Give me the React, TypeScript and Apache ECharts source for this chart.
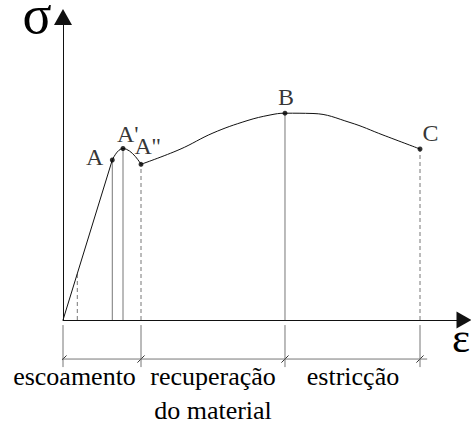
import React, { useEffect, useRef } from "react";
import * as echarts from "echarts";

// strain (ε) 0..100, stress (σ) 0..100 in arbitrary units
const ptA = [12.48, 53.69];
const ptA1 = [15.19, 57.55];
const ptA2 = [19.75, 52.25];
const ptB = [56.2, 69.4];
const ptC = [90.38, 57.38];

const elasticLine = [[0, 0], ptA];
const yieldCurve = [ptA, ptA1, ptA2];
const hardeningCurve = [
  ptA2,
  [29.62, 57.28],
  [37.97, 62.75],
  [46.58, 66.88],
  [52.41, 68.79],
  ptB,
  [63.29, 69.3],
  [72.66, 66.28],
  [81.01, 62.08],
  ptC,
];
const proportionalX = 3.62;

const pointNames = ["A", "A'", "A''", "B", "C"];
const pointValues = [ptA, ptA1, ptA2, ptB, ptC];

const zoneBounds = [0, ptA2[0], ptB[0], ptC[0]];
const zoneLabels = ["escoamento", "recuperação", "do material", "estricção"];
const dimLevel = -13.1;
const extTop = -1.7;
const extBottom = -15.8;
const dimStart = -1.5;
const dimEnd = 92.2;

const FONT = "Liberation Serif";

export default function App() {
  const ref = useRef<HTMLDivElement>(null);
  useEffect(() => {
    if (!ref.current) return;
    const chart = echarts.init(ref.current, null, { renderer: "svg" });
    const lineBase = (data: number[][], color: string, type: any = "solid", z = 2) => ({
      type: "line",
      data,
      symbol: "none",
      showSymbol: false,
      clip: false,
      silent: true,
      z,
      lineStyle: { color, width: 1, type },
    });
    const series: any[] = [];
    series.push(lineBase(elasticLine, "#111", "solid", 4));
    series.push({ ...lineBase(yieldCurve, "#111", "solid", 4), smooth: 0.5 });
    series.push({ ...lineBase(hardeningCurve, "#111", "solid", 4), smooth: 0.4 });
    series.push(
      lineBase(
        [
          [proportionalX, 0],
          [proportionalX, (ptA[1] * proportionalX) / ptA[0]],
        ],
        "#777",
        [4, 3]
      )
    );
    const solidDrops = [ptA, ptA1, ptB];
    const dashedDrops = [ptA2, ptC];
    solidDrops.forEach((p) => series.push(lineBase([[p[0], 0], p], "#777")));
    dashedDrops.forEach((p) => series.push(lineBase([[p[0], 0], p], "#777", [4, 3])));
    zoneBounds.forEach((x) => {
      series.push(lineBase([[x, extTop], [x, extBottom]], "#777"));
      series.push(lineBase([[x - 0.9, dimLevel - 1.2], [x + 0.9, dimLevel + 1.2]], "#333"));
    });
    series.push(lineBase([[dimStart, dimLevel], [dimEnd, dimLevel]], "#777"));

    const labelCfg: Record<string, any> = {
      A: { align: "right", offset: [-9, -3] },
      "A'": { align: "left", offset: [-6, -14.5] },
      "A''": { align: "left", offset: [-6.5, -18] },
      B: { align: "center", offset: [1, -16] },
      C: { align: "center", offset: [10.5, -16.5] },
    };
    series.push({
      type: "scatter",
      symbol: "circle",
      symbolSize: 5,
      clip: false,
      silent: true,
      z: 6,
      itemStyle: { color: "#000" },
      data: pointNames.map((n, i) => ({
        name: n,
        value: pointValues[i],
        label: {
          show: true,
          position: "inside",
          verticalAlign: "middle",
          formatter: "{b}",
          color: "#000",
          fontFamily: FONT,
          fontSize: 24,
          lineHeight: 18,
          ...labelCfg[n],
        },
      })),
    });

    const textStyle = (text: string, x: number, y: number, size: number, align = "center") => ({
      type: "text",
      x,
      y,
      silent: true,
      style: {
        text,
        fill: "#000",
        fontFamily: FONT,
        fontSize: size,
        lineHeight: Math.round(size * 0.7),
        textAlign: align,
        textVerticalAlign: "middle",
      },
    });

    chart.setOption({
      animation: false,
      backgroundColor: "#fff",
      grid: { left: 63, top: 22, width: 395, height: 298, containLabel: false },
      xAxis: {
        type: "value",
        min: 0,
        max: 100,
        axisLabel: { show: false },
        axisTick: { show: false },
        splitLine: { show: false },
        axisLine: {
          show: true,
          onZero: true,
          symbol: ["none", "triangle"],
          symbolSize: [17, 15],
          symbolOffset: [0, 6],
          lineStyle: { color: "#111", width: 1 },
        },
      },
      yAxis: {
        type: "value",
        min: 0,
        max: 100,
        axisLabel: { show: false },
        axisTick: { show: false },
        splitLine: { show: false },
        axisLine: {
          show: true,
          onZero: true,
          symbol: ["none", "triangle"],
          symbolSize: [18, 16],
          symbolOffset: [0, 5],
          lineStyle: { color: "#111", width: 1 },
        },
      },
      graphic: [
        textStyle("σ", 37, 15, 54),
        textStyle("ε", 452, 337, 43, "left"),
        textStyle(zoneLabels[0], 74.5, 376, 26),
        textStyle(zoneLabels[1], 213, 376, 26),
        textStyle(zoneLabels[2], 213, 410, 26),
        textStyle(zoneLabels[3], 353, 376, 26),
      ],
      series,
    });
    return () => chart.dispose();
  }, []);
  return (
    <div
      ref={ref}
      style={{ position: "absolute", left: 0, top: 0, width: 471, height: 421 }}
    />
  );
}
